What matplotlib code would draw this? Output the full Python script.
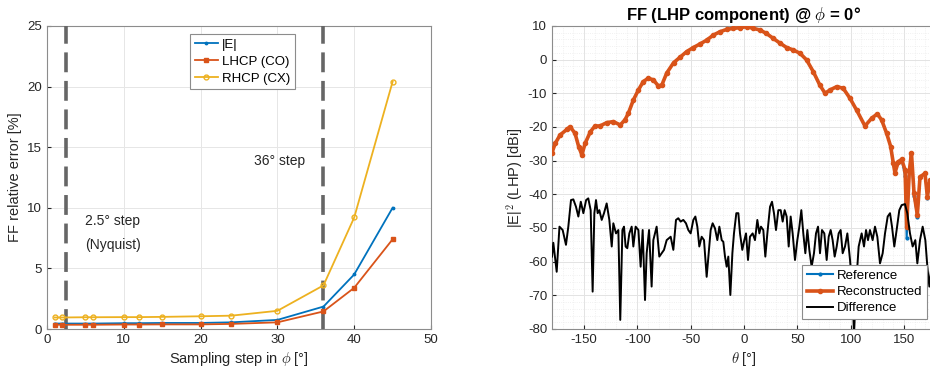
import matplotlib.pyplot as plt
from matplotlib.ticker import MultipleLocator

plt.rcParams['font.family'] = ['Liberation Sans', 'DejaVu Sans']
plt.rcParams['mathtext.fontset'] = 'cm'
plt.rcParams['axes.unicode_minus'] = False

BLUE = "#0072BD"
ORANGE = "#D95319"
YELLOW = "#EDB120"
TXT = "#262626"

# left panel: relative error vs sampling step
step = [1, 2, 5, 6, 10, 12, 15, 20, 24, 30, 36, 40, 45]
err_e = [0.45, 0.45, 0.45, 0.45, 0.48, 0.48, 0.5, 0.5, 0.55, 0.75, 1.85, 4.5, 10.0]
err_lhcp = [0.35, 0.35, 0.35, 0.35, 0.37, 0.37, 0.38, 0.38, 0.42, 0.55, 1.45, 3.4, 7.4]
err_rhcp = [0.95, 0.95, 0.97, 0.97, 0.98, 0.98, 1.0, 1.05, 1.1, 1.5, 3.6, 9.2, 20.4]
nyquist_step = 2.5
coarse_step = 36

# right panel: far field cut
theta_ff = [-180, -177, -172.5, -166, -163, -158.4, -155, -152, -149, -144, -139.7, -135,
            -128.7, -122.5, -116, -111.6, -108.4, -103.75, -99, -94.4, -89.7, -85, -80.3,
            -77, -72.5, -66, -60, -53.75, -47.5, -41, -35, -28.75, -22.5, -16, -10, -3.75,
            2.5, 8.75, 15, 21, 27.5, 33.75, 40, 46, 52.5, 58.75, 65, 71, 76, 80.6, 87, 93,
            99.4, 105.6, 113.4, 119.7, 125, 129, 133.75, 137.5, 140, 141.5, 144.7, 147.8,
            151, 152.5, 155, 157, 159.4, 162.5, 165, 169.7, 171.9, 174.4, 177, 180]
ff_head = [-27.6, -24.9, -22.4, -20.7, -19.9, -21.9, -25.8, -28.3, -24.9, -21.4, -19.7, -19.7,
           -18.7, -18.4, -19.4, -17.9, -15.9, -12.0, -9.0, -6.5, -5.5, -6.0, -7.8,
           -7.5, -4.0, -0.9, 0.7, 2.4, 3.6, 4.7, 5.8, 7.3, 8.3, 9.0, 9.3, 9.5,
           9.8, 9.3, 8.8, 7.8, 6.3, 4.9, 3.6, 2.9, 1.9, -0.1, -3.6, -7.5, -10.0, -9.0, -8.0, -8.5,
           -11.5, -15.0, -19.7, -17.4, -16.1, -17.9, -21.9, -25.8, -30.8, -33.6, -30.3, -29.6]
ref_tail = [-34.5, -53.0, -33.0, -27.8, -40.5, -46.6, -34.8, -33.8, -41.2, -35.7, -38.0, -36.0]
rec_tail = [-32.8, -49.6, -33.0, -27.8, -39.7, -46.1, -34.8, -33.8, -40.7, -35.7, -38.0, -36.0]

theta_diff = [-180, -178.75, -175.6, -173, -170, -166.9, -164.7, -162.2, -160, -157.5, -155.3,
              -153, -150.6, -148, -146, -143.75, -141.9, -140.3, -138.75, -137.2, -135.6,
              -133.4, -131.25, -128.75, -126.25, -124, -122.5, -120, -117.8, -116, -114,
              -112.5, -111, -109.4, -107.5, -105.3, -103.75, -101.6, -99, -96.9, -95, -92.8,
              -91.25, -89, -86.6, -85, -81.9, -79.4, -77.2, -75, -72.5, -68.75, -66.25,
              -63.75, -61.6, -59.4, -56.9, -54.4, -52.2, -50, -47.5, -45.6, -43.75, -41.9,
              -39.7, -37.5, -35, -33.1, -31.25, -29.4, -27.2, -25, -23.1, -20.9, -19.4,
              -17.8, -16.25, -14.7, -12.8, -10.9, -9.4, -7.2, -5.3, -3.75, -1.6, 0.3, 1.9,
              3.75, 5.6, 8.1, 10.3, 12.5, 14.4, 15.9, 18.1, 20, 21.9, 24.4, 26.25, 28.1, 30,
              32.2, 34.4, 36.25, 38.1, 40, 41.9, 43.75, 45.6, 47.8, 50, 51.9, 53.75, 55.6,
              57.5, 59.4, 61.25, 63.4, 65.6, 67.5, 69.4, 71.25, 73.1, 75.3, 77.5, 79.4,
              81.25, 83.1, 85, 86.9, 88.75, 90.6, 92.5, 94.7, 96.9, 99.4, 101.9, 103.1, 105,
              107.5, 110.3, 112.5, 114.4, 116.25, 118.1, 120.6, 122.8, 125, 127.5, 130,
              132.2, 134.7, 136.9, 138.75, 140.9, 143.1, 145.6, 147.8, 150.9, 153.1, 155.6,
              158.1, 160.6, 162.5, 165, 167.5, 170, 171.9, 173.75, 175, 177, 180]
ff_diff = [-58.5, -54.4, -63.0, -49.6, -50.6, -55.0, -49.6, -41.7, -41.5, -43.7, -46.6,
           -42.2, -45.6, -41.7, -41.2, -44.7, -68.9, -45.6, -41.7, -45.6, -44.7,
           -47.6, -45.6, -42.7, -47.6, -55.5, -48.6, -51.6, -50.6, -77.3, -50.6,
           -49.6, -55.5, -56.0, -51.6, -49.6, -55.5, -49.6, -50.6, -61.5, -50.6, -71.4,
           -57.5, -50.6, -67.4, -53.6, -49.6, -58.5, -57.5, -56.5, -53.6, -52.6, -56.5,
           -47.6, -47.1, -48.1, -47.6, -48.6, -50.6, -51.6, -47.6, -46.6, -49.6, -55.5,
           -52.6, -53.6, -64.5, -57.5, -50.6, -48.6, -50.1, -53.6, -49.6, -53.6, -54.1,
           -58.5, -61.5, -58.5, -69.9, -57.5, -51.6, -45.6, -45.6, -51.6, -56.5, -53.6, -51.6,
           -59.5, -52.6, -51.6, -53.6, -47.6, -51.6, -49.6, -50.6, -58.5, -51.6, -43.7, -42.2, -45.6, -50.6,
           -44.7, -44.7, -48.1, -44.7, -46.6, -55.5, -46.6, -51.6, -59.5, -53.6, -49.6, -44.7, -51.6,
           -57.5, -50.6, -56.5, -61.5, -57.5, -51.6, -49.6, -57.5, -50.6, -51.6, -59.5, -52.6,
           -50.6, -53.6, -58.5, -55.5, -51.6, -50.6, -57.5, -55.5, -51.6, -59.5, -69.4, -82.0, -67.4,
           -55.5, -51.6, -55.5, -50.6, -53.6, -50.6, -53.6, -49.6, -52.6, -60.5, -57.5,
           -51.6, -46.6, -45.6, -49.6, -55.5, -50.6, -44.7, -43.2, -42.9, -45.6, -51.6,
           -55.5, -53.6, -60.5, -53.6, -49.6, -53.6, -61.5, -67.4, -63.5, -58.0, -55.0]


def style_axes(ax):
    ax.tick_params(direction="in", colors=TXT, labelsize=9.5, length=3)
    for sp in ax.spines.values():
        sp.set_color("#8c8c8c")
        sp.set_linewidth(0.8)


fig = plt.figure(figsize=(9.3, 3.74), dpi=100)
ax1 = fig.add_axes([47 / 930, 45 / 374, 384 / 930, 303 / 374])
ax2 = fig.add_axes([552 / 930, 45 / 374, 384 / 930, 303 / 374])

# left panel
for xv in (nyquist_step, coarse_step):
    ax1.axvline(xv, color="#666666", lw=2.6, dashes=(5.5, 2.4), zorder=3)
ax1.plot(step, err_e, color=BLUE, lw=1.3, marker=".", ms=3.5, label="|E|", zorder=4)
ax1.plot(step, err_lhcp, color=ORANGE, lw=1.3, marker="s", ms=3, label="LHCP (CO)", zorder=4)
ax1.plot(step, err_rhcp, color=YELLOW, lw=1.3, marker="o", ms=3.5, mfc="none", mew=1,
         label="RHCP (CX)", zorder=4)
ax1.set_xlim(0, 50)
ax1.set_ylim(0, 25)
ax1.xaxis.set_major_locator(MultipleLocator(10))
ax1.yaxis.set_major_locator(MultipleLocator(5))
ax1.grid(True, color="#e6e6e6", lw=0.7)
ax1.set_axisbelow(True)
ax1.set_xlabel(r"Sampling step in $\phi$ [°]", fontsize=10.5, color=TXT, labelpad=3)
ax1.set_ylabel("FF relative error [%]", fontsize=10.5, color=TXT, labelpad=4)
ax1.text(5.0, 8.9, "2.5° step", fontsize=10, color=TXT, va="center")
ax1.text(5.0, 6.9, "(Nyquist)", fontsize=10, color=TXT, va="center")
ax1.text(27.0, 13.9, "36° step", fontsize=10, color=TXT, va="center")
style_axes(ax1)
leg1 = ax1.legend(loc="upper left", bbox_to_anchor=(190 / 930, 1 - 34 / 374),
                  bbox_transform=fig.transFigure, fontsize=9.5, fancybox=False,
                  framealpha=1, edgecolor="#8c8c8c", handlelength=1.8,
                  borderpad=0.35, labelspacing=0.35, handletextpad=0.3, borderaxespad=0)
leg1.get_frame().set_linewidth(0.8)

# right panel
theta_ref = theta_ff
ff_ref = ff_head + ref_tail
ff_rec = ff_head + rec_tail
ax2.plot(theta_ref, ff_ref, color=BLUE, lw=1.5, marker=".", ms=4, label="Reference", zorder=3)
ax2.plot(theta_ff, ff_rec, color=ORANGE, lw=2.6, marker="o", ms=3, mfc=ORANGE,
         label="Reconstructed", zorder=4)
ax2.plot(theta_diff, ff_diff, color="black", lw=1.4, label="Difference", zorder=5)
ax2.set_xlim(-180, 180)
ax2.set_ylim(-80, 10)
ax2.xaxis.set_major_locator(MultipleLocator(50))
ax2.yaxis.set_major_locator(MultipleLocator(10))
ax2.xaxis.set_minor_locator(MultipleLocator(10))
ax2.yaxis.set_minor_locator(MultipleLocator(2))
ax2.grid(True, which="major", color="#e3e3e3", lw=0.7)
ax2.grid(True, which="minor", color="#ececec", lw=0.6, ls=":")
ax2.set_axisbelow(True)
ax2.tick_params(which="minor", length=0)
ax2.set_xlabel(r"$\theta$ [°]", fontsize=10.5, color=TXT, labelpad=3)
ax2.set_ylabel(r"|E|$^2$ (LHP) [dBi]", fontsize=10.5, color=TXT, labelpad=2)
ax2.set_title(r"FF (LHP component) @ $\phi$ = 0°", fontsize=12, fontweight="bold",
              color="black", pad=4)
style_axes(ax2)
leg2 = ax2.legend(loc="lower right", bbox_to_anchor=(927 / 930, 55 / 374),
                  bbox_transform=fig.transFigure, fontsize=9.5, fancybox=False,
                  framealpha=1, edgecolor="#8c8c8c", handlelength=2.0,
                  borderpad=0.35, labelspacing=0.3, handletextpad=0.3, borderaxespad=0)
leg2.get_frame().set_linewidth(0.8)
leg2.set_zorder(10)

fig.savefig("out.png", dpi=100)
